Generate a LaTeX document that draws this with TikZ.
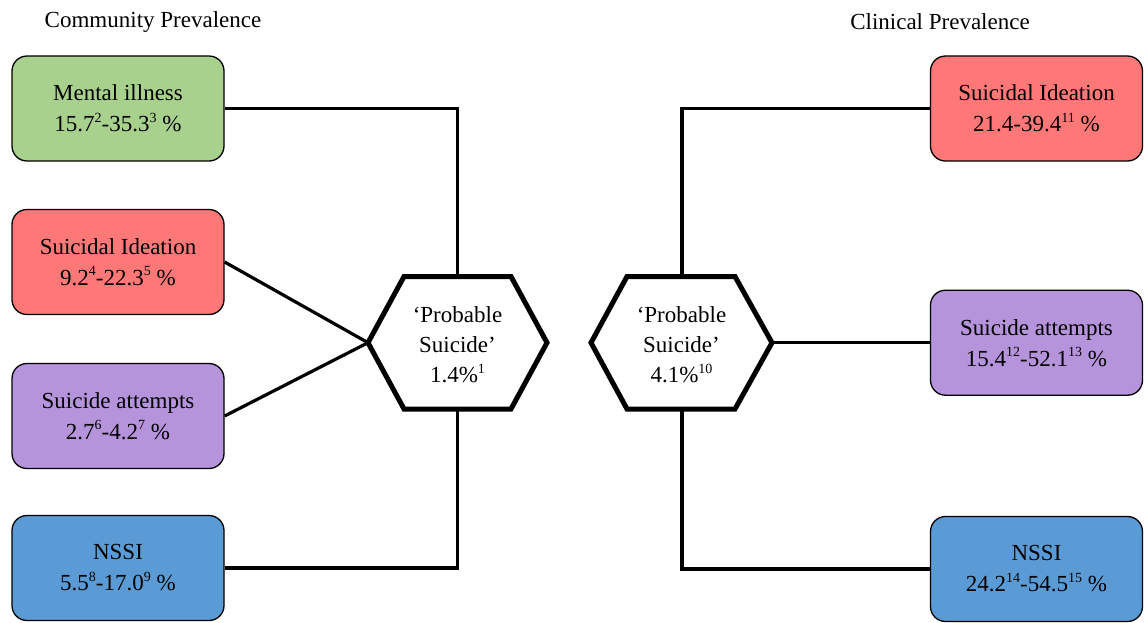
\documentclass[tikz,border=0pt]{standalone}
\usepackage{fontspec}
\setmainfont{Liberation Serif}
\definecolor{illgreen}{HTML}{A9D18E}
\definecolor{ideared}{HTML}{FF7878}
\definecolor{attpurple}{HTML}{B594DC}
\definecolor{nssiblue}{HTML}{5B9BD5}
% small raised reference numbers
\newcommand{\refnum}[1]{\raisebox{0.42em}{\fontsize{14}{14}\selectfont #1}}
\begin{document}
\begin{tikzpicture}[x=1pt,y=-1pt,
  box/.style={draw=black, line width=1.3pt, rounded corners=15pt,
    minimum width=212pt, minimum height=105pt, align=center,
    font=\fontsize{23}{31}\selectfont, inner sep=0pt},
  hexlabel/.style={align=center, font=\fontsize{23}{30}\selectfont, inner sep=0pt},
  title/.style={font=\fontsize{23}{26}\selectfont, inner sep=0pt},
  link/.style={line width=3.2pt},
  hexline/.style={line width=5pt, line join=miter},
  ]
\useasboundingbox (0,0) rectangle (1146,622);

% headings
\node[title] (comm) at (153,22) {Community Prevalence};
\node[title] (clin) at (940,22) {Clinical Prevalence};

% community boxes
\node[box, fill=illgreen]   (cmi)  at (118,108.5) {Mental illness\\15.7\refnum{2}-35.3\refnum{3} \%};
\node[box, fill=ideared]    (csi)  at (118,262)   {Suicidal Ideation\\9.2\refnum{4}-22.3\refnum{5} \%};
\node[box, fill=attpurple]  (csa)  at (118,416)   {Suicide attempts\\2.7\refnum{6}-4.2\refnum{7} \%};
\node[box, fill=nssiblue]   (cns)  at (118,568)   {NSSI\\5.5\refnum{8}-17.0\refnum{9} \%};

% clinical boxes
\node[box, fill=ideared]    (ksi)  at (1036.5,108.5) {Suicidal Ideation\\21.4-39.4\refnum{11} \%};
\node[box, fill=attpurple]  (ksa)  at (1036.5,342.7) {Suicide attempts\\15.4\refnum{12}-52.1\refnum{13} \%};
\node[box, fill=nssiblue]   (kns)  at (1036.5,569)   {NSSI\\24.2\refnum{14}-54.5\refnum{15} \%};

% community hexagon
\coordinate (lL)  at (368,342.7);
\coordinate (lTL) at (404,276.5);
\coordinate (lTR) at (511,276.5);
\coordinate (lR)  at (547,342.7);
\coordinate (lBR) at (511,409);
\coordinate (lBL) at (404,409);
\coordinate (lT)  at (457.5,276.5);
\coordinate (lB)  at (457.5,409);
\draw[hexline] (lL) -- (lTL) -- (lTR) -- (lR) -- (lBR) -- (lBL) -- cycle;
\node[hexlabel] (lhex) at (457.5,345) {‘Probable\\Suicide’\\1.4\%\refnum{1}};

% clinical hexagon
\coordinate (rL)  at (591,342.7);
\coordinate (rTL) at (627,276.5);
\coordinate (rTR) at (735,276.5);
\coordinate (rR)  at (772,342.7);
\coordinate (rBR) at (735,409);
\coordinate (rBL) at (627,409);
\coordinate (rT)  at (682,276.5);
\coordinate (rB)  at (682,409);
\draw[hexline] (rL) -- (rTL) -- (rTR) -- (rR) -- (rBR) -- (rBL) -- cycle;
\node[hexlabel] (rhex) at (681.5,345) {‘Probable\\Suicide’\\4.1\%\refnum{10}};

% community connectors
\draw[link] (cmi.east) -| (lT);
\draw[link] (csi.east) -- (lL);
\draw[link] (csa.east) -- (lL);
\draw[link] (cns.east) -| (lB);

% clinical connectors
\draw[link] (rT) |- (ksi.west);
\draw[link] (rR) -- (ksa.west);
\draw[link] (rB) |- (kns.west);
\end{tikzpicture}
\end{document}
